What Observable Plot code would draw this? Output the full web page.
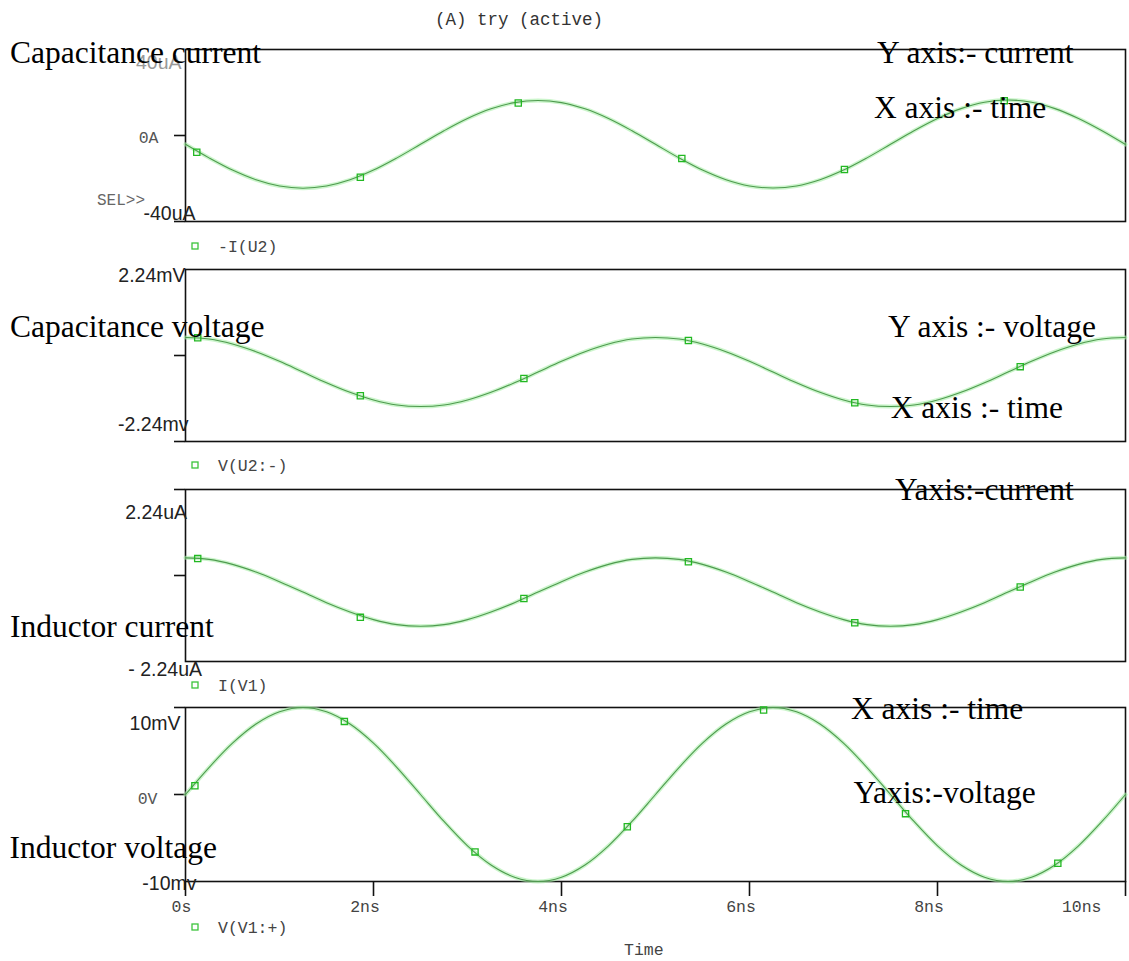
<!DOCTYPE html>
<html>
<head>
<meta charset="utf-8">
<script src="https://cdn.jsdelivr.net/npm/d3@7"></script>
<script src="https://cdn.jsdelivr.net/npm/@observablehq/plot@0.6"></script>
<style>
  body { margin: 0; background: #fff; }
  #page { position: relative; width: 1129px; height: 961px; overflow: hidden; background: #fff; }
  #page svg { position: absolute; left: 0; }
</style>
</head>
<body>
<div id="page"></div>
<script>
// ---------------- DATA ----------------
const time = [0,0.25,0.5,0.75,1,1.25,1.5,1.75,2,2.25,2.5,2.75,3,3.25,3.5,3.75,4,4.25,4.5,4.75,5,
              5.25,5.5,5.75,6,6.25,6.5,6.75,7,7.25,7.5,7.75,8,8.25,8.5,8.75,9,9.25,9.5,9.75,10]; // ns

// -I(U2)  capacitance current (uA)
const capCurrent = [-4.1,-10.4,-16.1,-20.6,-23.5,-24.5,-23.5,-20.6,-16.1,-10.4,-4.1,2.2,7.9,12.4,15.3,16.3,15.3,12.4,7.9,2.2,-4.1,
                    -10.4,-16.1,-20.6,-23.5,-24.4,-23.5,-20.6,-16.1,-10.4,-4.1,2.2,7.9,12.5,15.5,16.5,15.5,12.5,7.9,2.2,-4.2];
// V(U2:-)  capacitance voltage (mV)
const capVoltage = [0.47,0.43,0.30,0.10,-0.15,-0.43,-0.71,-0.96,-1.16,-1.29,-1.33,-1.29,-1.16,-0.96,-0.71,-0.43,-0.15,0.10,0.30,0.43,0.47,
                    0.43,0.30,0.10,-0.15,-0.43,-0.71,-0.96,-1.16,-1.29,-1.33,-1.29,-1.16,-0.96,-0.71,-0.43,-0.15,0.10,0.30,0.43,0.47];
// I(V1)  inductor current (uA)
const indCurrent = [0.46,0.42,0.29,0.09,-0.16,-0.43,-0.71,-0.95,-1.15,-1.28,-1.32,-1.28,-1.15,-0.95,-0.71,-0.43,-0.16,0.09,0.29,0.42,0.46,
                    0.42,0.29,0.09,-0.16,-0.43,-0.71,-0.95,-1.15,-1.28,-1.32,-1.28,-1.15,-0.95,-0.71,-0.43,-0.16,0.09,0.29,0.42,0.46];
// V(V1:+)  inductor voltage (mV)
const indVoltage = [0,3.1,5.9,8.1,9.5,10,9.5,8.1,5.9,3.1,0,-3.1,-5.9,-8.1,-9.5,-10,-9.5,-8.1,-5.9,-3.1,0,
                    3.1,5.9,8.1,9.5,10,9.5,8.1,5.9,3.1,0,-3.1,-5.9,-8.1,-9.5,-10,-9.5,-8.1,-5.9,-3.1,0];

// trace symbols (square markers)
const capCurrentMarkT = [0.12,1.86,3.54,5.28,7.01,8.71];
const capCurrentMarkV = [-7.8,-19.4,15.1,-10.7,-15.8,16.2];
const capVoltageMarkT = [0.13,1.86,3.6,5.35,7.12,8.88];
const capVoltageMarkV = [0.46,-1.05,-0.60,0.39,-1.23,-0.29];
const indCurrentMarkT = [0.13,1.86,3.6,5.35,7.12,8.88];
const indCurrentMarkV = [0.44,-1.09,-0.60,0.36,-1.23,-0.30];
const indVoltageMarkT = [0.1,1.69,3.08,4.70,6.15,7.66,9.28];
const indVoltageMarkV = [1.0,8.4,-6.6,-3.7,9.7,-2.2,-7.9];

// axes
const xTicks = [0,2,4,6,8,10];
const xTickLabels = ["0s","2ns","4ns","6ns","8ns","10ns"];
const capCurrentDomain = [-40,40];
const capVoltageDomain = [-2.24,2.24];
const indCurrentDomain = [-2.24,2.24];
const indVoltageDomain = [-10,10];
const capCurrentTickVals = [40,-40,0];
const capCurrentTickText = ["40uA","-40uA","0A"];
const capVoltageTickVals = [2.24,-2.24];
const capVoltageTickText = ["2.24mV","-2.24mv"];
const indCurrentTickVals = [2.24,-2.24];
const indCurrentTickText = ["2.24uA","- 2.24uA"];
const indVoltageTickVals = [10,-10,0];
const indVoltageTickText = ["10mV","-10mv","0V"];

const traceNames = ["-I(U2)","V(U2:-)","I(V1)","V(V1:+)"];
const title = "(A) try (active)";
const xTitle = "Time";
const notes = ["Capacitance current","Y axis:- current","X axis :- time",
               "Capacitance voltage","Y axis :- voltage","X axis :- time",
               "Yaxis:-current","Inductor current",
               "X axis :- time","Yaxis:-voltage","Inductor voltage"];

// ---------------- STYLE / LAYOUT ----------------
const MONO = "'Liberation Mono', 'DejaVu Sans Mono', monospace";
const SANS = "'Liberation Sans', Arial, sans-serif";
const SERIF = "'Liberation Serif', 'Times New Roman', serif";
const page = document.getElementById("page");

// label placement (dx, dy from tick, font, colour)
const labelStyle = {
  "40uA":    {dx:-4,  dy:19,  font:"sans", fill:"#999"},
  "-40uA":   {dx:10,  dy:-2,  font:"sans", fill:"#222"},
  "0A":      {dx:-27, dy:7,   font:"mono", fill:"#555"},
  "2.24mV":  {dx:0,   dy:12.5,font:"sans", fill:"#222"},
  "-2.24mv": {dx:3,   dy:-11, font:"sans", fill:"#222"},
  "2.24uA":  {dx:1.5, dy:29,  font:"sans", fill:"#222"},
  "- 2.24uA":{dx:16.5,dy:14,  font:"sans", fill:"#222"},
  "10mV":    {dx:-5,  dy:22,  font:"sans", fill:"#222"},
  "-10mv":   {dx:11,  dy:8,   font:"sans", fill:"#222"},
  "0V":      {dx:-28, dy:9,   font:"mono", fill:"#555"}
};

const panels = [
  {values:capCurrent, mT:capCurrentMarkT, mV:capCurrentMarkV, domain:capCurrentDomain,
   tv:capCurrentTickVals, tt:capCurrentTickText, ticks:[0,-40], top:49, bottom:221},
  {values:capVoltage, mT:capVoltageMarkT, mV:capVoltageMarkV, domain:capVoltageDomain,
   tv:capVoltageTickVals, tt:capVoltageTickText, ticks:[0,-2.24], top:269, bottom:441},
  {values:indCurrent, mT:indCurrentMarkT, mV:indCurrentMarkV, domain:indCurrentDomain,
   tv:indCurrentTickVals, tt:indCurrentTickText, ticks:[0,2.24], top:489, bottom:661},
  {values:indVoltage, mT:indVoltageMarkT, mV:indVoltageMarkV, domain:indVoltageDomain,
   tv:indVoltageTickVals, tt:indVoltageTickText, ticks:[0,10], top:707, bottom:881, xAxis:true}
];

panels.forEach(cfg => {
  const data = time.map((t, i) => ({t, v: cfg.values[i]}));
  const sym = cfg.mT.map((t, i) => ({t, v: cfg.mV[i]}));
  const mt = 40, mb = cfg.xAxis ? 70 : 40;
  const h = cfg.bottom - cfg.top;
  const marks = [
    Plot.frame({stroke: "#111", strokeWidth: 1.6}),
    Plot.axisY({ticks: cfg.ticks, tickSize: 11, tickFormat: () => "", label: null, stroke: "#111", strokeWidth: 1.6}),
    Plot.line(data, {x: "t", y: "v", curve: "catmull-rom", stroke: "#a8eea8", strokeWidth: 4, strokeOpacity: 0.6}),
    Plot.line(data, {x: "t", y: "v", curve: "catmull-rom", stroke: "#4e9a4e", strokeWidth: 1.1}),
    Plot.dot(sym, {x: "t", y: "v", symbol: "square", r: 3.5, stroke: "#22b822", strokeWidth: 1.3, fill: "none"})
  ];
  cfg.tv.forEach((v, i) => {
    const s = labelStyle[cfg.tt[i]];
    marks.push(Plot.text([{v, s: cfg.tt[i]}], {
      y: "v", text: "s", frameAnchor: "left", textAnchor: "end", lineAnchor: "bottom",
      dx: s.dx, dy: s.dy,
      fontFamily: s.font === "mono" ? MONO : SANS,
      fontSize: s.font === "mono" ? 16.5 : 19.5,
      fill: s.fill
    }));
  });
  if (cfg.xAxis) {
    const xl = xTicks.map((t, i) => ({t, s: xTickLabels[i]}));
    marks.push(Plot.axisX({ticks: xTicks, tickSize: 15, tickFormat: () => "", label: null, stroke: "#111", strokeWidth: 1.6}));
    const common = {x: "t", text: "s", frameAnchor: "bottom", lineAnchor: "bottom", dy: 30,
                    fontFamily: MONO, fontSize: 16.5, fill: "#444"};
    marks.push(Plot.text(xl.filter(d => d.t === 0), {...common, dx: -4}));
    marks.push(Plot.text(xl.filter(d => d.t > 0 && d.t < 10), {...common, dx: -8.5}));
    marks.push(Plot.text(xl.filter(d => d.t === 10), {...common, textAnchor: "end", dx: -24}));
  }
  const chart = Plot.plot({
    width: 1129, height: h + mt + mb,
    marginLeft: 185, marginRight: 4, marginTop: mt, marginBottom: mb,
    x: {domain: [0, 10], axis: null, label: null},
    y: {domain: cfg.domain, axis: null, label: null},
    style: {background: "transparent", overflow: "visible"},
    marks
  });
  chart.style.position = "absolute";
  chart.style.top = (cfg.top - mt) + "px";
  chart.style.left = "0px";
  page.appendChild(chart);
});

// ---------------- overlay texts (title, legends, notes) ----------------
const ov = d3.select(page).append("svg")
  .attr("width", 1129).attr("height", 961)
  .style("top", "0px").style("pointer-events", "none");

ov.append("text").attr("x", 435).attr("y", 25)
  .attr("font-family", MONO).attr("font-size", 17.5).attr("fill", "#333").text(title);

ov.append("text").attr("x", 97).attr("y", 205)
  .attr("font-family", MONO).attr("font-size", 16).attr("fill", "#666").text("SEL>>");

const legendY = [246, 465, 685, 927];
traceNames.forEach((name, i) => {
  ov.append("rect").attr("x", 192).attr("y", legendY[i] - 3).attr("width", 6).attr("height", 6)
    .attr("fill", "none").attr("stroke", "#3cc43c").attr("stroke-width", 1.3);
  ov.append("text").attr("x", 218).attr("y", legendY[i] + 5.5)
    .attr("font-family", MONO).attr("font-size", 16.5).attr("fill", "#444").text(name);
});

ov.append("text").attr("x", 624).attr("y", 955)
  .attr("font-family", MONO).attr("font-size", 16.5).attr("fill", "#444").text(xTitle);

const notePos = [[10,63],[877,62.7],[874,117.6],[10,336.6],[888,336.6],[890.7,417.6],
                 [895,500.2],[10,636.6],[851,719],[853.5,802.6],[9.6,858]];
notes.forEach((n, i) => {
  ov.append("text").attr("x", notePos[i][0]).attr("y", notePos[i][1])
    .attr("font-family", SERIF).attr("font-size", 31.5).attr("fill", "#000").text(n);
});
</script>
</body>
</html>
